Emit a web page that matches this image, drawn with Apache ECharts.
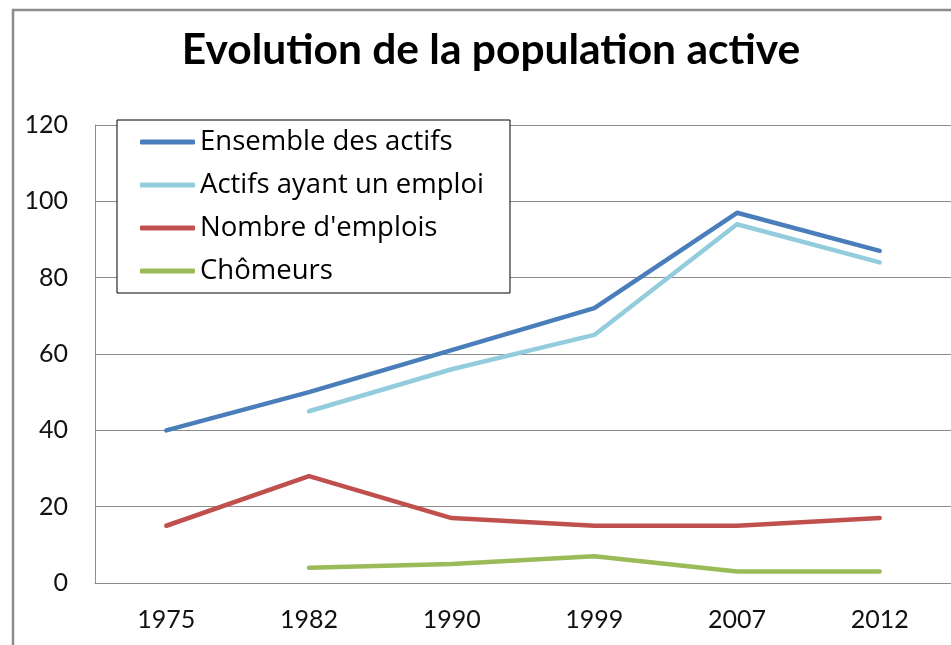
<!DOCTYPE html>
<html>
<head>
<meta charset="utf-8">
<script src="https://cdn.jsdelivr.net/npm/echarts@6/dist/echarts.min.js"></script>
<style>
  html, body { margin: 0; padding: 0; background: #fff; }
  #chart { width: 951px; height: 645px; }
</style>
</head>
<body>
<div id="chart"></div>
<script>
// Années recensées
const years = ['1975', '1982', '1990', '1999', '2007', '2012'];

// Séries (null = pas de donnée)
const ensembleActifs = [40, 50, 61, 72, 97, 87];
const actifsEmploi = [null, 45, 56, 65, 94, 84];
const nombreEmplois = [15, 28, 17, 15, 15, 17];
const chomeurs = [null, 4, 5, 7, 3, 3];

const seriesNames = ['Ensemble des actifs', 'Actifs ayant un emploi', "Nombre d'emplois", 'Chômeurs'];
const seriesColors = ['#4a7ebb', '#93cddd', '#c0504d', '#9bbb59'];
const seriesData = [ensembleActifs, actifsEmploi, nombreEmplois, chomeurs];

const titleFont = 'Lato, "Open Sans", sans-serif';
const legendFont = '"Open Sans", Lato, sans-serif';

const chart = echarts.init(document.getElementById('chart'));
chart.setOption({
  animation: false,
  backgroundColor: '#fff',
  graphic: [{
    type: 'rect',
    shape: { x: 13, y: 10, width: 960, height: 660 },
    style: { fill: 'none', stroke: '#8c8c8c', lineWidth: 2.5 },
    z: -1, silent: true
  }],
  title: {
    text: 'Evolution de la population active',
    left: 486,
    top: 24,
    textAlign: 'center',
    textStyle: { fontFamily: titleFont, fontWeight: 'bold', fontSize: 42.5, color: '#000' }
  },
  legend: {
    data: seriesNames,
    orient: 'vertical',
    left: 117,
    top: 120,
    padding: [7, 26, 7, 23],
    itemWidth: 55,
    itemHeight: 5,
    itemGap: 13,
    icon: 'roundRect',
    backgroundColor: '#fff',
    borderColor: '#000',
    borderWidth: 1,
    borderRadius: 0,
    textStyle: { fontFamily: legendFont, fontSize: 27.5, color: '#000', lineHeight: 30 },
    itemTextGap: 9,
    z: 10
  },
  grid: { left: 95, right: 0, top: 125, bottom: 62, containLabel: false },
  xAxis: {
    type: 'category',
    data: years,
    boundaryGap: true,
    axisLine: { show: true, lineStyle: { color: '#8c8c8c', width: 1 } },
    axisTick: { show: false },
    axisLabel: { fontFamily: titleFont, fontSize: 25, color: '#111', margin: 24 }
  },
  yAxis: {
    type: 'value',
    min: 0,
    max: 120,
    interval: 20,
    axisLine: { show: true, lineStyle: { color: '#8c8c8c', width: 1 } },
    axisTick: { show: false },
    splitLine: { show: true, lineStyle: { color: '#8c8c8c', width: 1 } },
    axisLabel: { fontFamily: titleFont, fontSize: 25, color: '#111', margin: 27 }
  },
  series: seriesData.map((d, i) => ({
    name: seriesNames[i],
    type: 'line',
    data: d,
    symbol: 'none',
    color: seriesColors[i],
    lineStyle: { width: 4.5, color: seriesColors[i], cap: 'round', join: 'round' },
    z: 2
  }))
});
</script>
</body>
</html>
